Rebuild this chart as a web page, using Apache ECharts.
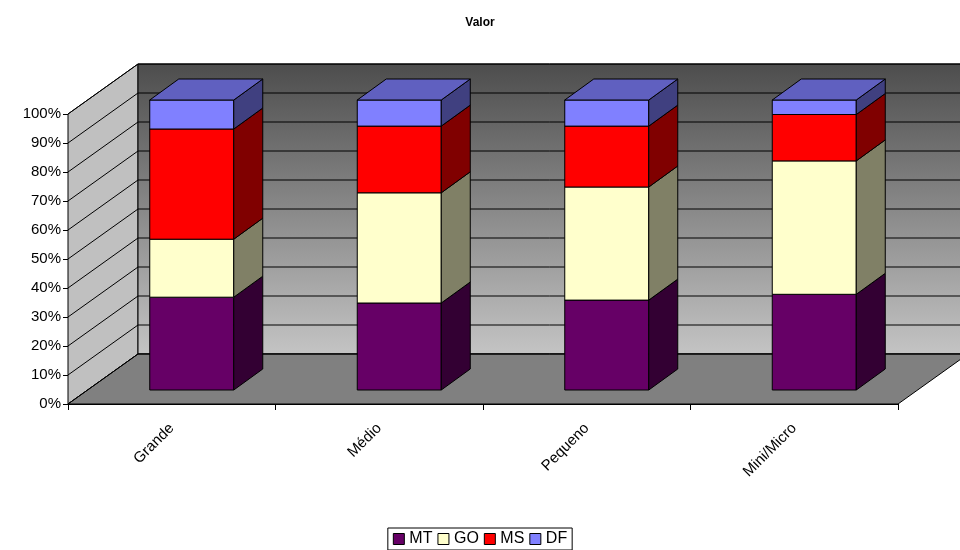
<!DOCTYPE html>
<html><head><meta charset="utf-8">
<script src="https://cdn.jsdelivr.net/npm/echarts@6/dist/echarts.min.js"></script>
<style>html,body{margin:0;padding:0;background:#fff}#c{width:960px;height:550px}</style>
</head><body><div id="c"></div>
<script>
const categories = ['Grande', 'Médio', 'Pequeno', 'Mini/Micro'];
const MT = [32, 30, 31, 33];
const GO = [20, 38, 39, 46];
const MS = [38, 23, 21, 16];
const DF = [10, 9, 9, 5];
const yTicks = [0,10,20,30,40,50,60,70,80,90,100];

const seriesDefs = [
  {name:'MT', vals:MT, front:'#660066', side:'#330033', top:'#4c004c'},
  {name:'GO', vals:GO, front:'#ffffcc', side:'#808066', top:'#bfbf99'},
  {name:'MS', vals:MS, front:'#ff0000', side:'#800000', top:'#bf0000'},
  {name:'DF', vals:DF, front:'#8080ff', side:'#404080', top:'#6060c0'}
];
const OX = 70, OY = -50, BW = 84, BDX = 20, BDY = -14, DX = 29, DY = -21;
const line = (pts) => ({type:'polyline', shape:{points:pts}, style:{stroke:'#000', lineWidth:1, fill:null}});
const poly = (pts, fill) => ({type:'polygon', shape:{points:pts}, style:{fill:fill, stroke:'#000', lineWidth:1}});

const wallSeries = {
  type:'custom', name:'walls', silent:true, clip:false, z:1,
  data:[[0,0]],
  renderItem:(params, api) => {
    const cs = params.coordSys;
    const x = cs.x, y = cs.y, w = cs.width, h = cs.height, b = y + h;
    const ch = [];
    ch.push(poly([[x,b],[x,y],[x+OX,y+OY],[x+OX,b+OY]], '#c0c0c0'));
    ch.push({type:'polygon', shape:{points:[[x+OX,y+OY],[x+w+OX,y+OY],[x+w+OX,b+OY],[x+OX,b+OY]]},
      style:{fill:new echarts.graphic.LinearGradient(0,0,0,1,[{offset:0,color:'#4d4d4d'},{offset:1,color:'#c4c4c4'}]), stroke:'#000'}});
    ch.push(poly([[x,b],[x+w,b],[x+w+OX,b+OY],[x+OX,b+OY]], '#808080'));
    yTicks.forEach(v => {
      const yy = api.coord([0, v])[1];
      ch.push(line([[x,yy],[x+OX,yy+OY],[x+w+OX,yy+OY]]));
    });
    return {type:'group', children:ch};
  }
};

const barSeries = seriesDefs.map((s, si) => ({
  type:'custom', name:s.name, clip:false, z:2 + si,
  itemStyle:{color:s.front, borderColor:'#000'},
  data: categories.map((c, i) => {
    let start = 0;
    for (let k = 0; k < si; k++) start += seriesDefs[k].vals[i];
    return [i, start, start + s.vals[i]];
  }),
  renderItem:(params, api) => {
    const i = api.value(0);
    const cx = api.coord([i, 0])[0] + BDX;
    const y0 = api.coord([i, api.value(1)])[1] + BDY;
    const y1 = api.coord([i, api.value(2)])[1] + BDY;
    const xl = cx - BW/2, xr = cx + BW/2;
    const ch = [
      poly([[xl,y1],[xr,y1],[xr,y0],[xl,y0]], s.front),
      poly([[xr,y1],[xr+DX,y1+DY],[xr+DX,y0+DY],[xr,y0]], s.side)
    ];
    if (si === seriesDefs.length - 1) ch.push(poly([[xl,y1],[xl+DX,y1+DY],[xr+DX,y1+DY],[xr,y1]], s.top));
    return {type:'group', children:ch};
  }
}));

const chart = echarts.init(document.getElementById('c'));
chart.setOption({
  animation:false,
  title:{text:'Valor', left:'center', top:12, textStyle:{fontFamily:'Liberation Sans', fontSize:12, fontWeight:'bold', color:'#000'}},
  legend:{bottom:0, left:'center', data:seriesDefs.map(s => ({name:s.name, itemStyle:{color:s.front, borderColor:'#000', borderWidth:1}})),
    icon:'rect', itemWidth:11, itemHeight:11, itemGap:5, itemTextGap:3, borderColor:'#000', borderWidth:1, padding:[3,5], borderRadius:0,
    textStyle:{fontFamily:'Liberation Sans', fontSize:16, color:'#000'}},
  grid:{left:68, right:62, top:114, bottom:146},
  xAxis:{type:'category', data:categories, boundaryGap:true,
    axisLine:{lineStyle:{color:'#000'}}, axisTick:{show:true, length:6, lineStyle:{color:'#000'}},
    axisLabel:{rotate:45, margin:22, color:'#000', fontFamily:'Liberation Sans', fontSize:15}},
  yAxis:{type:'value', min:0, max:100, interval:10,
    axisLine:{show:true, lineStyle:{color:'#000'}}, axisTick:{show:true, length:5, lineStyle:{color:'#000'}},
    splitLine:{show:false},
    axisLabel:{formatter:'{value}%', color:'#000', fontFamily:'Liberation Sans', fontSize:15, margin:7}},
  series:[wallSeries].concat(barSeries)
});
</script></body></html>
